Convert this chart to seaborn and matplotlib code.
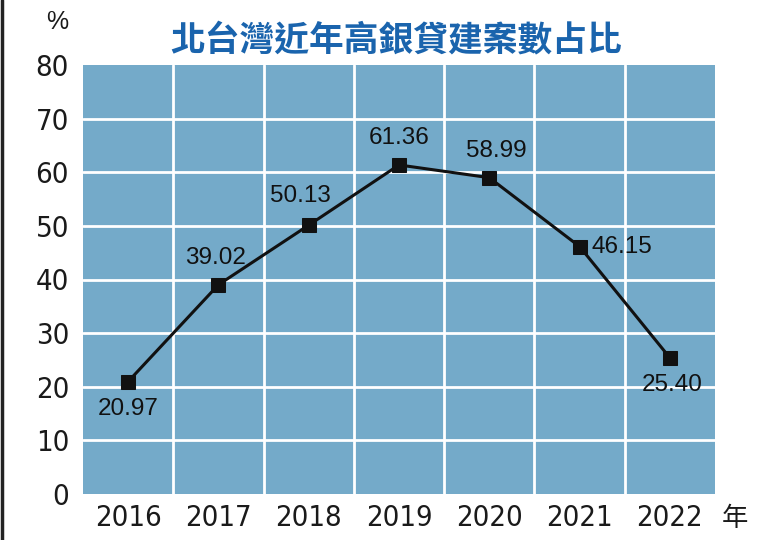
import matplotlib
matplotlib.use("Agg")
import matplotlib.pyplot as plt
import seaborn as sns
import pandas as pd
from matplotlib.lines import Line2D
from matplotlib import font_manager as fm

years = ["2016", "2017", "2018", "2019", "2020", "2021", "2022"]
values = [20.97, 39.02, 50.13, 61.36, 58.99, 46.15, 25.40]
yticks = [0, 10, 20, 30, 40, 50, 60, 70, 80]
title = "北台灣近年高銀貸建案數占比"

df = pd.DataFrame({"year": years, "value": values, "x": range(len(years))})

sns.set_theme(style="white")
plt.rcParams['font.family'] = ['Liberation Sans', 'DejaVu Sans']

names = {f.name for f in fm.fontManager.ttflist}
cond = [f for f in fm.fontManager.ttflist if f.name == "DejaVu Sans" and f.stretch == "condensed"]
if cond:
    tick_fp = fm.FontProperties(family="DejaVu Sans", stretch="condensed", size=21)
else:
    tick_fp = fm.FontProperties(family="Liberation Sans", size=20)

fig = plt.figure(figsize=(7.6, 5.4), dpi=100)
ax = fig.add_axes([83/760, 1-494/540, (715-83)/760, (494-65)/540])
ax.set_facecolor("#74aac9")

sns.lineplot(data=df, x="x", y="value", ax=ax, color="#111111", linewidth=2.2,
             marker="s", markersize=10, markeredgecolor="#111111", markerfacecolor="#111111",
             zorder=5)

ax.set_xlim(-0.5, len(years) - 0.5)
ax.set_ylim(0, 80)
ax.set_xticks(range(len(years)))
ax.set_xticklabels(years, fontproperties=tick_fp)
ax.set_xticks([i + 0.5 for i in range(len(years) - 1)], minor=True)
ax.set_yticks(yticks)
ax.set_yticklabels([str(v) for v in yticks], fontproperties=tick_fp)
ax.grid(False)
ax.grid(True, which="minor", axis="x", color="white", linewidth=2)
for v in yticks[1:-1]:
    ax.axhline(v, color="white", linewidth=2, zorder=1)
ax.tick_params(axis="both", which="both", length=0, colors="#1a1a1a")
ax.tick_params(axis="y", pad=10)
ax.tick_params(axis="x", pad=7)
for s in ax.spines.values():
    s.set_visible(False)
ax.set_xlabel("")
ax.set_ylabel("")

# value labels
offsets = [(0, -27, "center"), (-3, 27, "center"), (-8, 29, "center"), (0, 27, "center"),
           (7, 27, "center"), (12, 0, "left"), (2, -27, "center")]
for i, (v, (dx, dy, ha)) in enumerate(zip(values, offsets)):
    ax.annotate(f"{v:.2f}", (i, v), xytext=(dx * 0.72, dy * 0.72), textcoords="offset points",
                ha=ha, va="center", fontsize=17.5, family=["Liberation Sans", "DejaVu Sans"],
                color="#111111", zorder=6)

fig.text(396/760, 1-40/540, title, ha="center", va="center", fontsize=25,
         fontweight="bold", color="#1a64ad", family=["Noto Sans CJK TC", "DejaVu Sans"])
fig.text(57/760, 1-22/540, "%", ha="center", va="center", fontsize=18, color="#1a1a1a",
         family=["Liberation Sans", "DejaVu Sans"])
fig.text(735/760, 1-518/540, "年", ha="center", va="center", fontsize=19, color="#1a1a1a",
         family=["Noto Sans CJK TC", "DejaVu Sans"])

fig.add_artist(Line2D([2/760, 2/760], [0, 1], transform=fig.transFigure, color="#222222", linewidth=2.5))

fig.savefig("out.png", dpi=100, facecolor="white")
